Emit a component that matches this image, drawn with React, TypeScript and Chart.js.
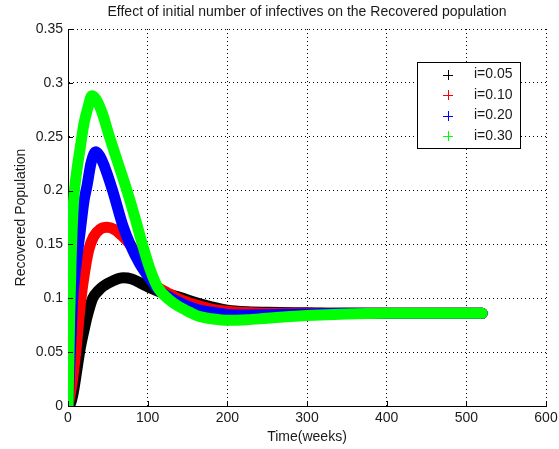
import React, { useEffect, useRef } from "react";
import { Chart, registerables } from "chart.js";

Chart.register(...registerables);

const chartTitle = "Effect of initial number of infectives on the Recovered population";
const xAxisLabel = "Time(weeks)";
const yAxisLabel = "Recovered Population";
const xTickValues = [0, 100, 200, 300, 400, 500, 600];
const yTickValues = [0, 0.05, 0.1, 0.15, 0.2, 0.25, 0.3, 0.35];
const yTickLabels = ["0", "0.05", "0.1", "0.15", "0.2", "0.25", "0.3", "0.35"];
const seriesNames = ["i=0.05", "i=0.10", "i=0.20", "i=0.30"];
const seriesColors = ["#000000", "#ff0000", "#0000ff", "#00ff00"];

// i = 0.05 (black)
const timeA = [0, 3, 6, 10, 15, 20, 24, 31, 38, 44, 56, 69, 80, 94, 105, 115, 130, 140, 160, 180, 200, 225, 250, 300, 350, 400, 450, 520];
const recA = [0, 0.002, 0.01, 0.028, 0.052, 0.07, 0.083, 0.1, 0.107, 0.111, 0.116, 0.119, 0.118, 0.113, 0.109, 0.106, 0.103, 0.101, 0.096, 0.092, 0.089, 0.0875, 0.087, 0.0865, 0.086, 0.086, 0.086, 0.086];

// i = 0.10 (red)
const timeB = [0, 5, 10, 16, 21, 26, 32, 40, 49, 58, 68, 80, 90, 100, 112, 125, 140, 160, 180, 200, 230, 260, 300, 350, 400, 450, 520];
const recB = [0, 0.021, 0.052, 0.098, 0.125, 0.145, 0.157, 0.164, 0.166, 0.164, 0.158, 0.148, 0.135, 0.124, 0.111, 0.105, 0.099, 0.094, 0.09, 0.088, 0.0865, 0.086, 0.086, 0.086, 0.086, 0.086, 0.086];

// i = 0.20 (blue)
const timeC = [0, 3, 6, 10, 15, 20, 24, 29, 35, 40, 45, 56, 69, 78, 90, 100, 112, 125, 140, 160, 180, 200, 220, 250, 300, 350, 400, 450, 520];
const recC = [0, 0.05, 0.1, 0.13, 0.16, 0.19, 0.205, 0.226, 0.236, 0.232, 0.224, 0.2, 0.167, 0.15, 0.132, 0.121, 0.109, 0.102, 0.096, 0.09, 0.087, 0.085, 0.0845, 0.0848, 0.0855, 0.086, 0.086, 0.086, 0.086];

// i = 0.30 (green)
const timeD = [0, 2, 4, 7, 11, 15, 20, 25, 30, 35, 43, 52, 63, 74, 84, 93, 103, 112, 128, 140, 153, 165, 180, 200, 225, 250, 300, 350, 400, 450, 520];
const recD = [0, 0.08, 0.14, 0.19, 0.218, 0.238, 0.262, 0.277, 0.288, 0.285, 0.272, 0.25, 0.225, 0.2, 0.175, 0.151, 0.127, 0.111, 0.098, 0.092, 0.087, 0.083, 0.081, 0.0795, 0.08, 0.0815, 0.084, 0.0855, 0.086, 0.086, 0.086];

const seriesTimes = [timeA, timeB, timeC, timeD];
const seriesValues = [recA, recB, recC, recD];

const FONT = '"Liberation Sans", Arial, Helvetica, sans-serif';
const TEXT_COLOR = "#1a1a1a";
const FONT_SIZE = 14;

const overlayPlugin = {
  id: "overlay",
  afterDraw(chart: any) {
    const { ctx, chartArea: a, scales } = chart;
    ctx.save();
    // inward tick marks
    ctx.strokeStyle = "#000";
    ctx.lineWidth = 1;
    ctx.beginPath();
    xTickValues.forEach((v) => {
      const x = Math.round(scales.x.getPixelForValue(v)) + 0.5;
      ctx.moveTo(x, a.bottom);
      ctx.lineTo(x, a.bottom - 5);
    });
    yTickValues.forEach((v) => {
      const y = Math.round(scales.y.getPixelForValue(v)) + 0.5;
      ctx.moveTo(a.left, y);
      ctx.lineTo(a.left + 5, y);
    });
    ctx.stroke();

    // title and axis labels
    ctx.fillStyle = TEXT_COLOR;
    ctx.font = `${FONT_SIZE}px ${FONT}`;
    ctx.textAlign = "center";
    ctx.textBaseline = "middle";
    const cx = (a.left + a.right) / 2;
    ctx.fillText(chartTitle, cx, a.top - 17);
    ctx.fillText(xAxisLabel, cx, a.bottom + 31);
    ctx.save();
    ctx.translate(21, (a.top + a.bottom) / 2);
    ctx.rotate(-Math.PI / 2);
    ctx.fillText(yAxisLabel, 0, 0);
    ctx.restore();

    // legend box
    const lx = a.left + 349;
    const ly = a.top + 33;
    const lw = 103;
    const lh = 86;
    ctx.fillStyle = "#ffffff";
    ctx.fillRect(lx, ly, lw, lh);
    ctx.strokeStyle = "#000";
    ctx.lineWidth = 1;
    ctx.strokeRect(lx + 0.5, ly + 0.5, lw, lh);
    ctx.textAlign = "left";
    seriesNames.forEach((name, i) => {
      const ry = ly + 12.5 + i * 20.5;
      const mx = lx + 31;
      ctx.strokeStyle = seriesColors[i];
      ctx.beginPath();
      ctx.moveTo(mx - 5, Math.round(ry) + 0.5);
      ctx.lineTo(mx + 5, Math.round(ry) + 0.5);
      ctx.moveTo(mx + 0.5, Math.round(ry) - 5);
      ctx.lineTo(mx + 0.5, Math.round(ry) + 5);
      ctx.stroke();
      ctx.fillStyle = TEXT_COLOR;
      ctx.fillText(name, lx + 57, ry);
    });
    ctx.restore();
  },
};

export default function App() {
  const canvasRef = useRef<HTMLCanvasElement | null>(null);

  useEffect(() => {
    const canvas = canvasRef.current;
    if (!canvas) return;
    const datasets = seriesNames.map((name, i) => ({
      label: name,
      data: seriesTimes[i].map((t, k) => ({ x: t, y: seriesValues[i][k] })),
      borderColor: seriesColors[i],
      backgroundColor: seriesColors[i],
      borderWidth: 11,
      borderJoinStyle: "round" as const,
      borderCapStyle: "round" as const,
      pointRadius: 0,
      cubicInterpolationMode: "monotone" as const,
      fill: false,
      order: seriesNames.length - i,
    }));

    const tickFont = { family: FONT, size: FONT_SIZE };
    const chart = new Chart(canvas, {
      type: "line",
      data: { datasets },
      options: {
        animation: false,
        responsive: false,
        maintainAspectRatio: false,
        layout: { padding: { left: 0, right: 13, top: 29, bottom: 0 } },
        plugins: {
          legend: { display: false },
          title: { display: false },
          tooltip: { enabled: false },
        },
        scales: {
          x: {
            type: "linear",
            min: 0,
            max: 600,
            afterBuildTicks: (s: any) => {
              s.ticks = xTickValues.map((v) => ({ value: v }));
            },
            afterFit: (s: any) => {
              s.height = 43;
              s.paddingLeft = 0;
              s.paddingRight = 0;
            },
            grid: { color: "#000", lineWidth: 1, drawTicks: false },
            border: { display: true, color: "#000", width: 1, dash: [1, 3] },
            ticks: {
              padding: 4,
              color: TEXT_COLOR,
              font: tickFont,
              maxRotation: 0,
              autoSkip: false,
              callback: (v: any) => String(v),
            },
          },
          y: {
            type: "linear",
            min: 0,
            max: 0.35,
            afterBuildTicks: (s: any) => {
              s.ticks = yTickValues.map((v) => ({ value: v }));
            },
            afterFit: (s: any) => {
              s.width = 68;
              s.paddingTop = 0;
              s.paddingBottom = 0;
            },
            grid: { color: "#000", lineWidth: 1, drawTicks: false },
            border: { display: true, color: "#000", width: 1, dash: [1, 3] },
            ticks: {
              padding: 5,
              color: TEXT_COLOR,
              font: tickFont,
              autoSkip: false,
              callback: (v: any, idx: number) => yTickLabels[idx],
            },
          },
        },
      },
      plugins: [overlayPlugin],
    });
    return () => chart.destroy();
  }, []);

  return (
    <div style={{ position: "absolute", left: 0, top: 0, width: 559, height: 449, background: "#fff" }}>
      <canvas ref={canvasRef} width={559} height={449} style={{ display: "block" }} />
    </div>
  );
}
